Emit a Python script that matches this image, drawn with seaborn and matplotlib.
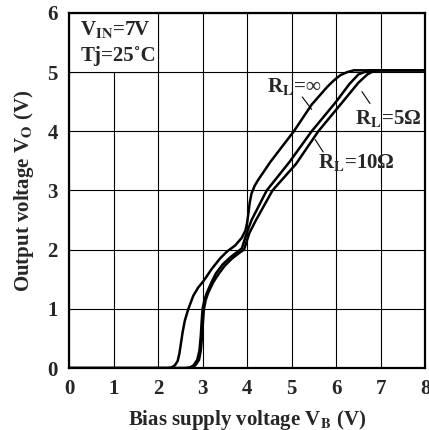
import matplotlib
matplotlib.use('Agg')
import matplotlib.pyplot as plt
from matplotlib.patches import Rectangle
import numpy as np
import pandas as pd
import seaborn as sns

# curves (V_B, V_O)
vb_inf = [0, 2.2, 2.3, 2.38, 2.44, 2.48, 2.51, 2.55, 2.6, 2.68, 2.79, 2.9, 3.02, 3.2, 3.39,
          3.55, 3.73, 3.88, 3.96, 4.0, 4.03, 4.06, 4.1, 4.17, 4.25, 4.52, 5.05, 5.45, 5.8,
          5.95, 6.1, 6.25, 6.4, 8]
vo_inf = [0, 0, 0.01, 0.05, 0.12, 0.25, 0.4, 0.6, 0.8, 1.0, 1.22, 1.36, 1.47, 1.67, 1.85,
          1.97, 2.07, 2.2, 2.32, 2.45, 2.62, 2.8, 2.95, 3.08, 3.18, 3.48, 4.0, 4.45, 4.75,
          4.86, 4.95, 5.0, 5.03, 5.03]

vb_10 = [0, 2.6, 2.72, 2.8, 2.88, 2.93, 2.96, 2.98, 3.0, 3.04, 3.1, 3.2, 3.3, 3.45, 3.62,
         3.81, 3.88, 4.0, 4.1, 4.44, 4.95, 5.45, 6.0, 6.3, 6.5, 6.7, 6.9, 8]
vo_10 = [0, 0, 0.01, 0.05, 0.14, 0.3, 0.55, 0.8, 1.0, 1.15, 1.28, 1.45, 1.6, 1.75, 1.87,
         1.98, 2.02, 2.3, 2.5, 3.0, 3.48, 4.0, 4.5, 4.8, 4.96, 5.02, 5.03, 5.03]

vb_5 = [0, 2.65, 2.76, 2.84, 2.92, 2.96, 2.99, 3.01, 3.03, 3.07, 3.13, 3.24, 3.35, 3.5, 3.66,
        3.85, 3.93, 4.05, 4.2, 4.57, 5.1, 5.6, 6.15, 6.5, 6.7, 6.85, 6.97, 8]
vo_5 = [0, 0, 0.01, 0.05, 0.14, 0.3, 0.55, 0.8, 1.0, 1.15, 1.28, 1.45, 1.58, 1.73, 1.85,
        1.96, 2.0, 2.28, 2.5, 3.0, 3.45, 4.0, 4.5, 4.82, 4.96, 5.02, 5.03, 5.03]

xticks = [0, 1, 2, 3, 4, 5, 6, 7, 8]
yticks = [0, 1, 2, 3, 4, 5, 6]

sns.set_style("white")
plt.rcParams['font.family'] = ['Liberation Serif', 'DejaVu Serif']
plt.rcParams['font.weight'] = 'bold'
plt.rcParams['mathtext.fontset'] = 'stix'

fig = plt.figure(figsize=(4.29, 4.30), dpi=100)
ax = fig.add_axes([0.161, 0.144, 0.830, 0.826])

for xs, ys in [(vb_inf, vo_inf), (vb_10, vo_10), (vb_5, vo_5)]:
    sns.lineplot(x=xs, y=ys, ax=ax, color='black', linewidth=1.8, sort=False,
                 estimator=None, zorder=3)

ax.set_xlim(0, 8)
ax.set_ylim(0, 6)
ax.set_xticks(xticks)
ax.set_yticks(yticks)
ax.set_xticklabels([str(t) for t in xticks], fontsize=15, fontweight='bold')
ax.set_yticklabels([str(t) for t in yticks], fontsize=15, fontweight='bold')
ax.tick_params(axis='x', length=0, pad=8)
ax.tick_params(axis='y', length=0, pad=8)
ax.grid(True, color='black', linewidth=0.8)
ax.set_axisbelow(True)
for s in ax.spines.values():
    s.set_color('black')
    s.set_linewidth(1.6)

# condition box in the top-left cell
ax.add_patch(Rectangle((0, 5), 2, 1, facecolor='white', edgecolor='black',
                       linewidth=0.8, zorder=1.5))
ax.text(0.25, 5.72, r'V$_{\mathbf{IN}}$=7V', fontsize=15, fontweight='bold',
        va='center', ha='left', zorder=4)
ax.text(0.26, 5.27, 'Tj=25˚C', fontsize=15, fontweight='bold',
        va='center', ha='left', zorder=4)

# curve labels with leader lines
ax.text(5.06, 4.75, r'R$_{\mathbf{L}}$=∞', fontsize=15, fontweight='bold',
        va='center', ha='center', zorder=4)
ax.plot([5.24, 5.45], [4.58, 4.37], color='black', linewidth=0.8)
ax.text(7.17, 4.22, r'R$_{\mathbf{L}}$=5Ω', fontsize=15, fontweight='bold',
        va='center', ha='center', zorder=4)
ax.plot([6.58, 6.76], [4.67, 4.47], color='black', linewidth=0.8)
ax.text(6.46, 3.47, r'R$_{\mathbf{L}}$=10Ω', fontsize=15, fontweight='bold',
        va='center', ha='center', zorder=4)
ax.plot([5.53, 5.71], [3.86, 3.65], color='black', linewidth=0.8)

ax.set_xlabel(r'Bias supply voltage V$_{\mathbf{B}}$ (V)', fontsize=15, fontweight='bold',
              labelpad=6)
ax.set_ylabel(r'Output voltage V$_{\mathbf{O}}$ (V)', fontsize=15, fontweight='bold',
              labelpad=8)

fig.savefig('out.png', dpi=100)
